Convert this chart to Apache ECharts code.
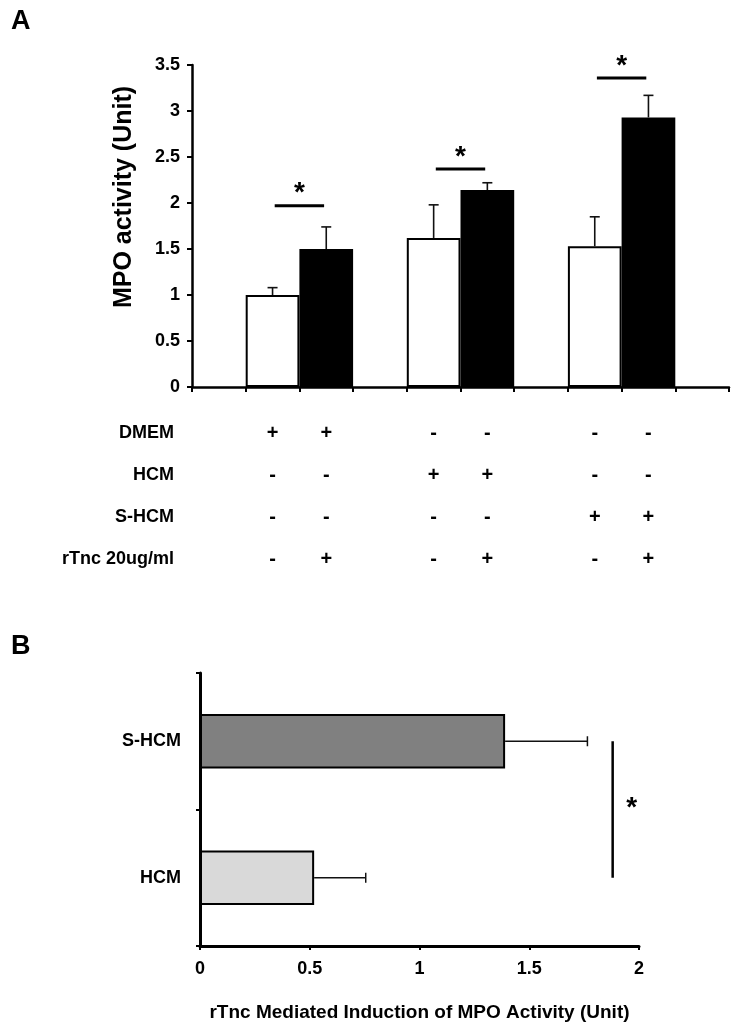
<!DOCTYPE html>
<html>
<head>
<meta charset="utf-8">
<title>MPO activity</title>
<script src="https://cdn.jsdelivr.net/npm/echarts@6/dist/echarts.min.js"></script>
<style>
    html, body { margin: 0; padding: 0; background: #fff; }
    #chart { width: 741px; height: 1032px; }
</style>
</head>
<body>
<div id="chart"></div>
<script>
    // panel A: three media, each without / with rTnc
    var groups = ['DMEM', 'HCM', 'S-HCM']
    var ctrlMean = [1.00, 1.62, 1.53]
    var ctrlErr = [0.08, 0.36, 0.32]
    var rtncMean = [1.50, 2.14, 2.93]
    var rtncErr = [0.24, 0.08, 0.24]
    var sigLevel = [1.97, 2.37, 3.36]
    var yTicksA = [0, 3.5, 0.5]

    // table under panel A
    var rowNames = ['DMEM', 'HCM', 'S-HCM', 'rTnc 20ug/ml']
    var signs = [
        ['+', '+', '-', '-', '-', '-'],
        ['-', '-', '+', '+', '-', '-'],
        ['-', '-', '-', '-', '+', '+'],
        ['-', '+', '-', '+', '-', '+']
    ]

    // panel B
    var catsB = ['HCM', 'S-HCM']
    var meanB = [0.52, 1.39]
    var errB = [0.235, 0.375]
    var colorB = ['#d9d9d9', '#808080']
    var sigB = 1.88

    var FONT = '"Liberation Sans", Arial, sans-serif'

    /**
     * 10 slots on the x axis: empty, ctrl, rtnc, empty, ... empty
     */
    var slots = []
    var ctrlSlot = []
    var rtncSlot = []
    for (let i = 0; i < 10; i++) {
        slots.push('s' + i)
        ctrlSlot.push(null)
        rtncSlot.push(null)
    }
    var errA = []
    var sigA = []
    var cells = []
    for (let g = 0; g < groups.length; g++) {
        let c = 3 * g + 1
        ctrlSlot[c] = ctrlMean[g]
        rtncSlot[c + 1] = rtncMean[g]
        errA.push([c, ctrlMean[g], ctrlErr[g]])
        errA.push([c + 1, rtncMean[g], rtncErr[g]])
        sigA.push([c, sigLevel[g]])
    }
    var cellSlots = [1, 2, 4, 5, 7, 8]
    for (let r = 0; r < rowNames.length; r++) {
        for (let k = 0; k < cellSlots.length; k++) {
            cells.push([cellSlots[k], r, signs[r][k]])
        }
    }
    var errBData = meanB.map(function (v, i) { return [v, i, errB[i]] })

    var axisLineA = { show: true, lineStyle: { color: '#000', width: 2.5 } }
    var boldLabel = { color: '#000', fontFamily: FONT, fontWeight: 'bold', fontSize: 18 }

    var chart = echarts.init(document.getElementById('chart'), null, { renderer: 'canvas' })
    chart.setOption({
        animation: false,
        backgroundColor: '#fff',
        title: [
            { text: 'A', left: 6, top: 3, textStyle: { fontFamily: FONT, fontWeight: 'bold', fontSize: 27, color: '#000' } },
            { text: 'B', left: 6, top: 628, textStyle: { fontFamily: FONT, fontWeight: 'bold', fontSize: 27, color: '#000' } }
        ],
        grid: [
            { left: 192, right: 12, top: 65, height: 322 },
            { left: 192, right: 12, top: 412, height: 168 },
            { left: 200, right: 102, top: 673, height: 273 }
        ],
        xAxis: [
            {
                gridIndex: 0, type: 'category', data: slots,
                axisLine: axisLineA,
                axisTick: { show: true, length: 5, lineStyle: { color: '#000', width: 2 } },
                axisLabel: { show: false },
                splitLine: { show: false }
            },
            {
                gridIndex: 1, type: 'category', data: slots,
                axisLine: { show: false }, axisTick: { show: false }, axisLabel: { show: false }
            },
            {
                gridIndex: 2, type: 'value', min: 0, max: 2, interval: 0.5,
                axisLine: { show: true, lineStyle: { color: '#000', width: 3 } },
                axisTick: { show: true, length: 4, lineStyle: { color: '#000', width: 2 } },
                axisLabel: Object.assign({ margin: 14 }, boldLabel),
                splitLine: { show: false },
                name: 'rTnc Mediated Induction of MPO Activity (Unit)',
                nameLocation: 'middle',
                nameGap: 57,
                nameTextStyle: { color: '#000', fontFamily: FONT, fontWeight: 'bold', fontSize: 19 }
            }
        ],
        yAxis: [
            {
                gridIndex: 0, type: 'value', min: yTicksA[0], max: yTicksA[1], interval: yTicksA[2],
                axisLine: axisLineA,
                axisTick: { show: true, length: 5, lineStyle: { color: '#000', width: 2 } },
                axisLabel: Object.assign({ margin: 12 }, boldLabel),
                splitLine: { show: false },
                name: 'MPO activity (Unit)',
                nameLocation: 'middle',
                nameRotate: 90,
                nameGap: 55,
                nameTextStyle: { color: '#000', fontFamily: FONT, fontWeight: 'bold', fontSize: 25, padding: [0, 0, 0, 58] }
            },
            {
                gridIndex: 1, type: 'category', data: rowNames, inverse: true,
                axisLine: { show: false }, axisTick: { show: false },
                axisLabel: Object.assign({ margin: 18 }, boldLabel)
            },
            {
                gridIndex: 2, type: 'category', data: catsB,
                axisLine: { show: true, lineStyle: { color: '#000', width: 3 } },
                axisTick: { show: true, length: 4, lineStyle: { color: '#000', width: 2 } },
                axisLabel: Object.assign({ margin: 19 }, boldLabel)
            }
        ],
        series: [
            {
                name: 'control', type: 'bar', xAxisIndex: 0, yAxisIndex: 0,
                data: ctrlSlot, barWidth: '100%', barGap: '-100%',
                itemStyle: { color: '#fff', borderColor: '#000', borderWidth: 2 }
            },
            {
                name: 'rTnc', type: 'bar', xAxisIndex: 0, yAxisIndex: 0,
                data: rtncSlot, barWidth: '100%', barGap: '-100%',
                itemStyle: { color: '#000', borderColor: '#000', borderWidth: 2 }
            },
            {
                // vertical error bars, panel A
                type: 'custom', xAxisIndex: 0, yAxisIndex: 0, data: errA, z: 5,
                encode: { x: 0, y: 1 },
                renderItem: function (params, api) {
                    let top = api.coord([api.value(0), api.value(1) + api.value(2)])
                    let base = api.coord([api.value(0), api.value(1)])
                    let st = { stroke: '#111', lineWidth: 1.6 }
                    return {
                        type: 'group',
                        children: [
                            { type: 'line', shape: { x1: base[0], y1: base[1], x2: top[0], y2: top[1] }, style: st },
                            { type: 'line', shape: { x1: top[0] - 5, y1: top[1], x2: top[0] + 5, y2: top[1] }, style: st }
                        ]
                    }
                }
            },
            {
                // significance bars + stars, panel A
                type: 'custom', xAxisIndex: 0, yAxisIndex: 0, data: sigA, z: 5,
                encode: { x: 0, y: 1 },
                renderItem: function (params, api) {
                    let a = api.coord([api.value(0), api.value(1)])
                    let b = api.coord([api.value(0) + 1, api.value(1)])
                    let w = api.size([1, 0])[0] * 0.46
                    let cx = (a[0] + b[0]) / 2
                    return {
                        type: 'group',
                        children: [
                            { type: 'line', shape: { x1: cx - w, y1: a[1], x2: cx + w, y2: a[1] }, style: { stroke: '#000', lineWidth: 3 } },
                            {
                                type: 'text', x: cx, y: a[1] + 2,
                                style: { text: '*', fill: '#000', fontFamily: FONT, fontWeight: 'bold', fontSize: 28, align: 'center', verticalAlign: 'bottom' }
                            }
                        ]
                    }
                }
            },
            {
                // +/- table
                type: 'custom', xAxisIndex: 1, yAxisIndex: 1, data: cells,
                encode: { x: 0, y: 1 },
                renderItem: function (params, api) {
                    let p = api.coord([api.value(0), api.value(1)])
                    return {
                        type: 'text', x: p[0], y: p[1],
                        style: { text: cells[params.dataIndex][2], fill: '#000', fontFamily: FONT, fontWeight: 'bold', fontSize: 20, align: 'center', verticalAlign: 'middle' }
                    }
                }
            },
            {
                name: 'B', type: 'bar', xAxisIndex: 2, yAxisIndex: 2,
                barWidth: '40%',
                data: meanB.map(function (v, i) {
                    return { value: v, itemStyle: { color: colorB[i] } }
                }),
                itemStyle: { borderColor: '#000', borderWidth: 2 }
            },
            {
                // horizontal error bars, panel B
                type: 'custom', xAxisIndex: 2, yAxisIndex: 2, data: errBData, z: 5,
                encode: { x: 0, y: 1 },
                renderItem: function (params, api) {
                    let base = api.coord([api.value(0), api.value(1)])
                    let end = api.coord([api.value(0) + api.value(2), api.value(1)])
                    let st = { stroke: '#111', lineWidth: 1.5 }
                    return {
                        type: 'group',
                        children: [
                            { type: 'line', shape: { x1: base[0], y1: base[1], x2: end[0], y2: end[1] }, style: st },
                            { type: 'line', shape: { x1: end[0], y1: end[1] - 5, x2: end[0], y2: end[1] + 5 }, style: st }
                        ]
                    }
                }
            },
            {
                // significance line, panel B
                type: 'custom', xAxisIndex: 2, yAxisIndex: 2, data: [[sigB, 0]], z: 5,
                encode: { x: 0, y: 1 },
                renderItem: function (params, api) {
                    let lo = api.coord([api.value(0), 0])
                    let hi = api.coord([api.value(0), 1])
                    return {
                        type: 'group',
                        children: [
                            { type: 'line', shape: { x1: lo[0], y1: lo[1], x2: hi[0], y2: hi[1] }, style: { stroke: '#000', lineWidth: 2.5 } },
                            {
                                type: 'text', x: lo[0] + 19, y: (lo[1] + hi[1]) / 2 + 13,
                                style: { text: '*', fill: '#000', fontFamily: FONT, fontWeight: 'bold', fontSize: 28, align: 'center', verticalAlign: 'bottom' }
                            }
                        ]
                    }
                }
            }
        ]
    })
</script>
</body>
</html>
